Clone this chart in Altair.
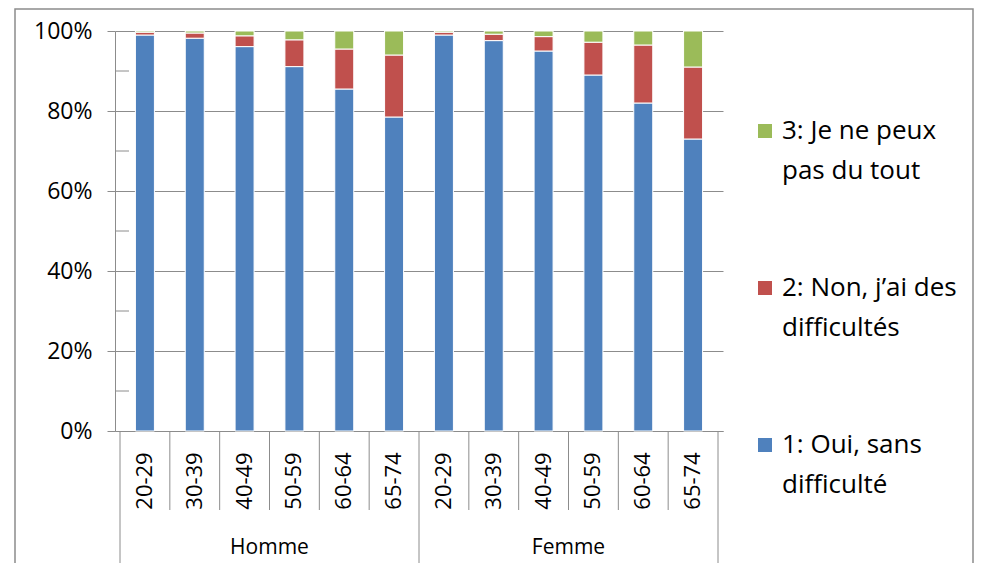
import altair as alt
import pandas as pd

ages = ["20-29", "30-39", "40-49", "50-59", "60-64", "65-74"]
sexes = ["Homme", "Femme"]
series = ["1: Oui, sans difficulté", "2: Non, j’ai des difficultés", "3: Je ne peux pas du tout"]
colors = ["#4F81BD", "#C0504D", "#9BBB59"]

oui_homme = [99.0, 98.2, 96.1, 91.1, 85.5, 78.5]
non_homme = [0.7, 1.3, 2.7, 6.7, 10.0, 15.5]
pas_homme = [0.3, 0.5, 1.2, 2.2, 4.5, 6.0]
oui_femme = [99.0, 97.6, 95.0, 89.0, 82.0, 73.0]
non_femme = [0.7, 1.6, 3.6, 8.2, 14.5, 18.0]
pas_femme = [0.3, 0.8, 1.4, 2.8, 3.5, 9.0]

legend_lines = [
    ["3: Je ne peux", "pas du tout"],
    ["2: Non,  j’ai des", "difficultés"],
    ["1: Oui, sans", "difficulté"],
]

FONT = "Open Sans"
GRAY = "#8c8c8c"

values = {
    "Homme": [oui_homme, non_homme, pas_homme],
    "Femme": [oui_femme, non_femme, pas_femme],
}
rows = []
cat_rows = []
idx = 0
for sex in sexes:
    for i, age in enumerate(ages):
        base = 0.0
        for s, name in enumerate(series):
            v = values[sex][s][i]
            rows.append({"pos": idx + 0.5, "sex": sex, "age": age, "serie": name,
                         "y0": base, "y1": base + v})
            base += v
        cat_rows.append({"pos": idx + 0.5, "age": age})
        idx += 1
df = pd.DataFrame(rows)
cats = pd.DataFrame(cat_rows)
n = len(cats)

xscale = alt.Scale(domain=[0, n], nice=False, zero=False)

bars = alt.Chart(df).mark_bar(size=19, stroke="white", strokeWidth=1).encode(
    x=alt.X("pos:Q", scale=xscale,
            axis=alt.Axis(labels=False, ticks=False, grid=False, title=None,
                          domainColor=GRAY, domainWidth=1)),
    y=alt.Y("y0:Q", scale=alt.Scale(domain=[0, 100], nice=False),
            axis=alt.Axis(values=[0, 20, 40, 60, 80, 100], labelExpr="datum.value + '%'",
                          title=None, grid=True, gridColor=GRAY, gridWidth=1,
                          domainColor=GRAY, tickColor=GRAY, tickSize=8,
                          labelFont=FONT, labelFontSize=23, labelColor="#000",
                          labelPadding=15)),
    y2="y1:Q",
    color=alt.Color("serie:N", scale=alt.Scale(domain=series, range=colors), legend=None),
)

minor = alt.Chart(pd.DataFrame({"v": [10, 30, 50, 70, 90]})).mark_rule(color=GRAY).encode(
    y="v:Q", x=alt.value(0), x2=alt.value(14)
)

bounds_short = pd.DataFrame({"b": [b for b in range(1, n) if b != n // 2]})
bounds_long = pd.DataFrame({"b": [0, n // 2, n]})
sep_short = alt.Chart(bounds_short).mark_rule(color=GRAY).encode(
    x=alt.X("b:Q", scale=xscale), y=alt.value(400), y2=alt.value(479))
sep_long = alt.Chart(bounds_long).mark_rule(color=GRAY).encode(
    x=alt.X("b:Q", scale=xscale), y=alt.value(400), y2=alt.value(532))

age_labels = alt.Chart(cats).mark_text(angle=270, align="center", baseline="middle",
                                       font=FONT, fontSize=22, color="#000").encode(
    x=alt.X("pos:Q", scale=xscale), y=alt.value(450), text="age:N")

groups = pd.DataFrame({"sex": sexes, "mid": [n / 4, 3 * n / 4]})
group_labels = alt.Chart(groups).mark_text(align="center", baseline="middle",
                                           font=FONT, fontSize=21, color="#000").encode(
    x=alt.X("mid:Q", scale=xscale), y=alt.value(517), text="sex:N")

one = pd.DataFrame({"a": [0]})
border = alt.Chart(one).mark_rect(filled=False, stroke=GRAY, strokeWidth=1.5).encode(
    x=alt.value(-100), x2=alt.value(858), y=alt.value(-22), y2=alt.value(600))

legend_layers = []
legend_colors = [colors[2], colors[1], colors[0]]
for k, lines in enumerate(legend_lines):
    yc = 100 + k * 157
    legend_layers.append(
        alt.Chart(one).mark_square(size=196, color=legend_colors[k], opacity=1).encode(
            x=alt.value(650), y=alt.value(yc)))
    for j, line in enumerate(lines):
        legend_layers.append(
            alt.Chart(one).mark_text(align="left", baseline="middle", font=FONT,
                                     fontSize=26, color="#000", text=line).encode(
                x=alt.value(667), y=alt.value(yc + j * 40)))

chart = alt.layer(border, bars, minor, sep_short, sep_long, age_labels, group_labels,
                  *legend_layers).properties(
    width=608, height=400,
    autosize=alt.AutoSizeParams(type="none"),
    padding={"left": 107, "top": 23, "right": 251, "bottom": 132},
    background="white",
).configure_view(stroke=None)

chart.save("out.html", embed_options={"renderer": "svg", "actions": False})
